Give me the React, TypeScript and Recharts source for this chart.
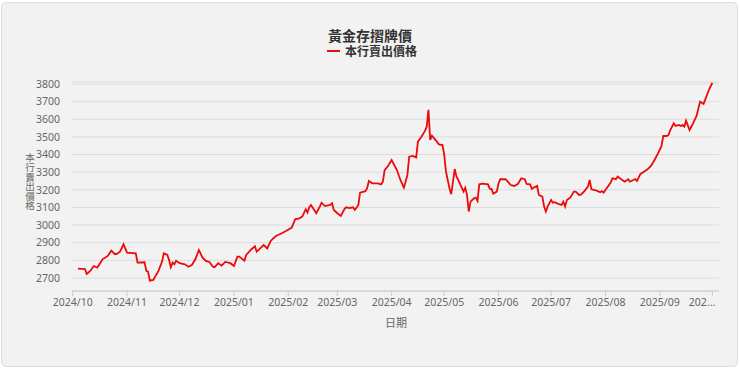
import React from 'react';
import { LineChart, Line, XAxis, YAxis, CartesianGrid } from 'recharts';

const dates: string[] = [
  '2024-10-04','2024-10-08','2024-10-09','2024-10-11','2024-10-13','2024-10-15','2024-10-17','2024-10-18','2024-10-21','2024-10-23',
  '2024-10-25','2024-10-26','2024-10-28','2024-10-30','2024-11-01','2024-11-06','2024-11-07','2024-11-11','2024-11-12','2024-11-13',
  '2024-11-14','2024-11-16','2024-11-19','2024-11-21','2024-11-22','2024-11-24','2024-11-25','2024-11-26','2024-11-27','2024-11-28',
  '2024-11-29','2024-12-01','2024-12-04','2024-12-06','2024-12-08','2024-12-10','2024-12-12','2024-12-14','2024-12-16','2024-12-18',
  '2024-12-20','2024-12-21','2024-12-23','2024-12-25','2024-12-27','2024-12-30','2025-01-01','2025-01-03','2025-01-04','2025-01-07',
  '2025-01-08','2025-01-11','2025-01-13','2025-01-14','2025-01-16','2025-01-18','2025-01-20','2025-01-22','2025-01-23','2025-01-25',
  '2025-01-28','2025-01-31','2025-02-03','2025-02-05','2025-02-07','2025-02-09','2025-02-11','2025-02-12','2025-02-13','2025-02-14',
  '2025-02-17','2025-02-19','2025-02-20','2025-02-22','2025-02-25','2025-02-26','2025-02-27','2025-03-01','2025-03-03','2025-03-05',
  '2025-03-06','2025-03-08','2025-03-10','2025-03-11','2025-03-13','2025-03-14','2025-03-17','2025-03-18','2025-03-19','2025-03-21',
  '2025-03-24','2025-03-26','2025-03-27','2025-03-28','2025-03-30','2025-04-01','2025-04-04','2025-04-06','2025-04-08','2025-04-10',
  '2025-04-11','2025-04-13','2025-04-15','2025-04-16','2025-04-18','2025-04-20','2025-04-21','2025-04-22','2025-04-23','2025-04-24',
  '2025-04-26','2025-04-28','2025-04-30','2025-05-01','2025-05-02','2025-05-04','2025-05-05','2025-05-06','2025-05-07','2025-05-08',
  '2025-05-09','2025-05-11','2025-05-12','2025-05-13','2025-05-14','2025-05-15','2025-05-16','2025-05-18','2025-05-19','2025-05-20',
  '2025-05-21','2025-05-23','2025-05-26','2025-05-27','2025-05-28','2025-05-29','2025-05-31','2025-06-01','2025-06-02','2025-06-05',
  '2025-06-08','2025-06-10','2025-06-12','2025-06-14','2025-06-16','2025-06-17','2025-06-19','2025-06-20','2025-06-21','2025-06-23',
  '2025-06-24','2025-06-26','2025-06-27','2025-06-28','2025-06-29','2025-07-01','2025-07-02','2025-07-03','2025-07-05','2025-07-07',
  '2025-07-08','2025-07-09','2025-07-10','2025-07-12','2025-07-14','2025-07-15','2025-07-17','2025-07-18','2025-07-20','2025-07-22',
  '2025-07-23','2025-07-24','2025-07-27','2025-07-29','2025-07-30','2025-07-31','2025-08-01','2025-08-04','2025-08-05','2025-08-07',
  '2025-08-08','2025-08-10','2025-08-12','2025-08-14','2025-08-15','2025-08-18','2025-08-19','2025-08-21','2025-08-23','2025-08-25',
  '2025-08-27','2025-08-29','2025-08-31','2025-09-02','2025-09-03','2025-09-05','2025-09-06','2025-09-07','2025-09-09','2025-09-10',
  '2025-09-12','2025-09-13','2025-09-14','2025-09-15','2025-09-16','2025-09-18','2025-09-20','2025-09-22','2025-09-24','2025-09-26',
  '2025-09-27','2025-09-29','2025-10-01',
];

const prices: number[] = [
  2753,2751,2723,2740,2768,2759,2789,2806,2825,2855,
  2836,2836,2849,2891,2844,2840,2787,2789,2740,2736,
  2685,2689,2742,2793,2840,2831,2802,2761,2787,2778,
  2798,2784,2778,2764,2774,2806,2859,2817,2797,2791,
  2764,2761,2784,2770,2791,2784,2768,2821,2821,2798,
  2831,2863,2880,2849,2868,2887,2868,2910,2920,2938,
  2952,2968,2986,3034,3036,3048,3090,3071,3101,3114,
  3067,3105,3127,3108,3114,3124,3086,3067,3052,3090,
  3101,3096,3101,3086,3114,3184,3192,3209,3250,3237,
  3237,3231,3246,3312,3336,3369,3312,3256,3212,3284,
  3388,3392,3384,3473,3501,3534,3558,3653,3483,3507,
  3483,3458,3454,3398,3303,3209,3175,3246,3318,3275,
  3256,3212,3190,3212,3171,3077,3133,3152,3156,3137,
  3231,3235,3231,3205,3205,3178,3190,3237,3260,3261,
  3227,3222,3233,3265,3260,3233,3231,3205,3212,3222,
  3171,3161,3105,3077,3105,3142,3127,3130,3120,3114,
  3133,3105,3142,3157,3190,3190,3171,3173,3193,3218,
  3256,3203,3195,3186,3193,3184,3199,3241,3265,3260,
  3275,3260,3246,3260,3246,3261,3250,3290,3303,3316,
  3335,3369,3407,3449,3505,3505,3511,3539,3577,3562,
  3568,3562,3568,3558,3592,3539,3577,3619,3700,3687,
  3713,3766,3807,
];

const monthLabels: string[] = [
  '2024/10','2024/11','2024/12','2025/01','2025/02','2025/03','2025/04',
  '2025/05','2025/06','2025/07','2025/08','2025/09','2025/10',
];

const yTicks: number[] = [2700, 2800, 2900, 3000, 3100, 3200, 3300, 3400, 3500, 3600, 3700, 3800];

const BASE = Date.UTC(2024, 9, 1);
const DAY = 86400000;
const toDay = (s: string) => {
  const [y, m, d] = s.split('-').map(Number);
  return (Date.UTC(y, m - 1, d) - BASE) / DAY;
};
const data = dates.map((d, i) => ({ t: toDay(d), price: prices[i] }));
const monthTicks = monthLabels.map((l) => {
  const [y, m] = l.split('/').map(Number);
  return (Date.UTC(y, m - 1, 1) - BASE) / DAY;
});

const FONT = '"Noto Sans", "Noto Sans CJK TC", sans-serif';
const CJK = '"Noto Sans CJK TC", "Noto Sans", sans-serif';
const RED = '#ec0a0a';

const XTick = (props: any) => {
  const { x, y, index } = props;
  const last = index === monthLabels.length - 1;
  const label = last ? '202...' : monthLabels[index];
  return (
    <text
      x={last ? x + 3 : x}
      y={y}
      dy="0.71em"
      textAnchor={last ? 'end' : 'middle'}
      fill="#666"
      fontSize={10.5}
      fontFamily={FONT}
    >
      {label}
    </text>
  );
};

export default function App() {
  return (
    <div style={{ position: 'absolute', left: 0, top: 0, width: 740, height: 369, background: '#ffffff' }}>
      <div
        style={{
          position: 'absolute',
          left: 1,
          top: 2,
          width: 735,
          height: 363,
          border: '1px solid #dedede',
          borderRadius: 5,
          background: '#f2f2f2',
        }}
      />
      <div style={{ position: 'absolute', left: 0, top: 0 }}>
        <LineChart width={740} height={369} data={data} margin={{ top: 82, right: 21, bottom: 48, left: 0 }}>
          <CartesianGrid horizontal vertical={false} stroke="#dcdcdc" strokeWidth={1} />
          <XAxis
            dataKey="t"
            type="number"
            domain={[-0.4, 368.8]}
            ticks={monthTicks}
            interval={0}
            allowDataOverflow
            tickSize={5}
            tickMargin={3}
            height={30}
            stroke="#cccccc"
            tick={<XTick />}
          />
          <YAxis
            type="number"
            domain={[2626.3, 3811.3]}
            ticks={yTicks}
            interval={0}
            allowDataOverflow
            axisLine={false}
            tickLine={false}
            tickSize={0}
            tickMargin={12}
            width={72}
            tick={{ fill: '#666', fontSize: 10.5, fontFamily: FONT }}
          />
          <Line
            type="linear"
            dataKey="price"
            stroke={RED}
            strokeWidth={1.8}
            dot={false}
            activeDot={false}
            isAnimationActive={false}
          />
        </LineChart>
      </div>
      <div
        style={{
          position: 'absolute',
          left: 0,
          top: 28,
          width: 740,
          height: 14,
          textAlign: 'center',
          fontFamily: CJK,
          fontSize: 14,
          fontWeight: 'bold',
          lineHeight: '14px',
          color: '#333',
        }}
      >
        黃金存摺牌價
      </div>
      <div style={{ position: 'absolute', left: 327, top: 50, width: 13, height: 2, background: RED }} />
      <div
        style={{
          position: 'absolute',
          left: 345,
          top: 45,
          height: 12,
          fontFamily: CJK,
          fontSize: 12,
          fontWeight: 'bold',
          lineHeight: '12px',
          color: '#333',
          whiteSpace: 'nowrap',
        }}
      >
        本行賣出價格
      </div>
      <div
        style={{
          position: 'absolute',
          left: 24,
          top: 153,
          width: 12,
          writingMode: 'vertical-rl',
          textOrientation: 'upright',
          fontFamily: CJK,
          fontSize: 9.6,
          lineHeight: '12px',
          color: '#666',
          whiteSpace: 'nowrap',
        }}
      >
        本行賣出價格
      </div>
      <div
        style={{
          position: 'absolute',
          left: 346,
          top: 315,
          width: 100,
          textAlign: 'center',
          fontFamily: CJK,
          fontSize: 11,
          lineHeight: '14px',
          color: '#666',
        }}
      >
        日期
      </div>
    </div>
  );
}
